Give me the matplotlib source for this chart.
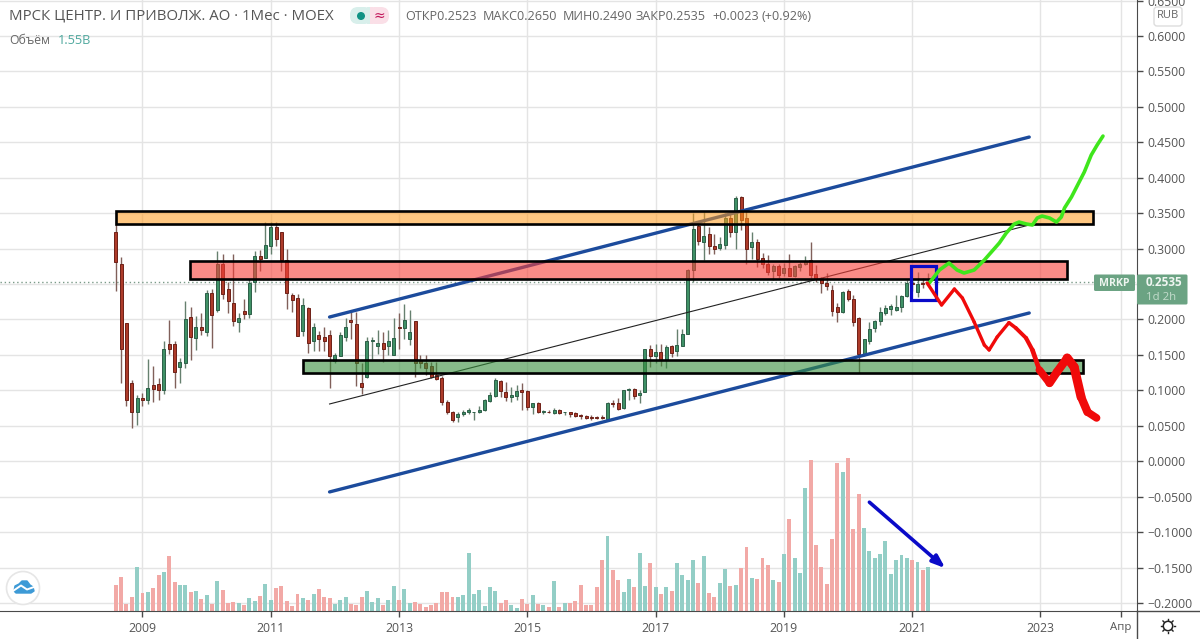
import matplotlib
matplotlib.use('Agg')
import matplotlib.pyplot as plt
from matplotlib.patches import Rectangle, FancyBboxPatch, Circle, Polygon

plt.rcParams['font.family'] = ['Open Sans', 'DejaVu Sans']

# monthly candles, first one is Aug 2008
first_month = -5  # months from Jan 2009
opens = [.323, .279, .195, .110, .069, .089, .086, .107, .109, .101, .166, .166, .133, .139, .204, .174, .189, .183, .237, .213,
         .279, .243, .223, .197, .212, .208, .253, .290, .287, .303, .330, .323, .284, .235, .230, .184, .216, .170, .178, .175,
         .178, .142, .149, .176, .199, .194, .110, .119, .170, .163, .167, .162, .150, .189, .188, .173, .198, .143, .138, .134,
         .121, .117, .083, .070, .062, .067, .069, .069, .069, .072, .085, .092, .113, .097, .090, .092, .100, .099, .077, .082,
         .070, .070, .068, .073, .069, .069, .068, .065, .064, .062, .062, .062, .060, .082, .082, .075, .100, .102, .093, .098,
         .158, .148, .154, .143, .163, .155, .163, .180, .270, .332, .310, .321, .304, .301, .305, .343, .324, .373, .343, .302,
         .310, .287, .279, .269, .276, .265, .273, .261, .274, .279, .284, .264, .258, .251, .242, .218, .211, .240, .229, .202,
         .150, .170, .188, .198, .209, .215, .213, .217, .233, .252, .239, .252, .2523]
highs = [.340, .288, .195, .114, .094, .096, .144, .134, .117, .170, .199, .170, .145, .226, .217, .205, .209, .241, .243, .296,
         .293, .253, .292, .209, .229, .257, .296, .298, .338, .337, .338, .323, .299, .238, .236, .230, .218, .195, .184, .190,
         .185, .153, .183, .202, .211, .211, .138, .175, .175, .185, .183, .185, .202, .209, .222, .213, .198, .150, .150, .140,
         .140, .120, .086, .071, .069, .072, .075, .070, .078, .088, .097, .117, .115, .112, .105, .108, .110, .100, .082, .084,
         .073, .072, .075, .074, .070, .069, .070, .067, .065, .065, .064, .065, .083, .087, .089, .101, .104, .103, .100, .159,
         .164, .166, .166, .164, .164, .186, .186, .271, .350, .339, .352, .330, .321, .317, .350, .350, .374, .374, .357, .324,
         .314, .294, .291, .279, .279, .280, .293, .277, .281, .289, .310, .277, .260, .266, .249, .223, .240, .243, .234, .204,
         .172, .197, .199, .218, .220, .222, .234, .234, .256, .258, .267, .258, .2650]
lows = [.240, .111, .078, .047, .051, .078, .081, .084, .086, .095, .151, .104, .111, .132, .143, .157, .178, .177, .160, .210,
        .229, .209, .191, .183, .201, .202, .239, .268, .287, .293, .304, .269, .215, .211, .177, .177, .153, .155, .155, .155,
        .104, .138, .149, .170, .173, .106, .095, .118, .144, .151, .140, .150, .150, .159, .173, .164, .119, .131, .122, .117,
        .115, .079, .067, .055, .056, .064, .066, .058, .068, .071, .084, .091, .091, .085, .084, .086, .072, .072, .066, .068,
        .067, .068, .067, .067, .065, .063, .062, .060, .060, .058, .059, .059, .060, .077, .072, .074, .086, .088, .082, .097,
        .133, .138, .135, .131, .147, .149, .163, .180, .253, .305, .284, .293, .292, .298, .299, .316, .299, .326, .279, .286,
        .274, .272, .263, .256, .258, .261, .261, .260, .269, .277, .259, .253, .238, .242, .205, .197, .209, .226, .191, .124,
        .148, .166, .183, .192, .207, .207, .212, .211, .232, .240, .232, .244, .2490]
closes = [.281, .159, .087, .070, .089, .086, .103, .102, .101, .159, .159, .126, .140, .200, .176, .189, .185, .237, .207, .278,
          .236, .226, .198, .202, .208, .252, .289, .285, .305, .330, .314, .284, .238, .228, .177, .220, .167, .189, .172, .170,
          .148, .150, .178, .189, .197, .138, .105, .169, .171, .167, .158, .169, .174, .188, .199, .182, .138, .139, .132, .119,
          .116, .083, .069, .058, .066, .069, .072, .070, .073, .087, .093, .115, .099, .091, .094, .099, .097, .077, .082, .069,
          .071, .069, .073, .068, .070, .067, .064, .064, .061, .061, .061, .061, .082, .081, .074, .101, .102, .092, .096, .158,
          .148, .154, .143, .161, .153, .164, .179, .270, .327, .311, .318, .303, .300, .306, .343, .324, .371, .340, .299, .309,
          .286, .279, .267, .275, .263, .272, .261, .275, .278, .283, .263, .257, .251, .247, .212, .210, .239, .229, .196, .152,
          .172, .186, .198, .210, .216, .219, .218, .233, .252, .250, .250, .250, .2535]
# volume, billions
volumes = [.91, 1.19, .24, .49, 1.54, .63, .66, .80, 1.26, 1.36, 1.92, 1.01, .91, .91, .66, .70, .42, .56, .24, 1.05,
           .73, .28, .31, .28, .21, .45, .35, .52, .94, .38, .80, .87, .35, .17, .59, .45, .38, .59, .77, .49,
           .45, .24, .38, .49, .24, .21, .49, .70, .31, .45, .21, .38, .87, .38, .77, .28, .31, .24, .14, .21,
           .28, .66, .66, .49, .49, .56, 2.03, .59, .73, .17, .84, .70, .28, .38, .21, .10, .42, .26, .57, .26,
           .22, .15, 1.06, .15, .29, .29, .36, .92, .22, .22, .85, 1.79, 2.63, 1.45, 1.10, .68, 1.13, .85, 2.04, .89,
           1.69, .85, .61, .85, .71, 1.69, 1.27, 1.10, 1.79, .99, 1.93, .64, .50, .99, 1.48, .89, .92, 1.52, 2.25, 1.17,
           1.13, 1.86, 1.62, 1.10, 1.03, 2.00, 3.23, 1.86, 1.34, 4.31, 5.29, 2.32, 1.55, .96, 2.53, 5.19, 4.87, 5.36, 2.88, 4.10,
           2.91, 2.11, 1.86, 2.00, 2.46, 1.31, 1.79, 1.97, 1.86, 1.79, 1.72, 1.45, 1.55]

year_labels = ['2009', '2011', '2013', '2015', '2017', '2019', '2021', '2023', 'Апр']
year_months = [0, 24, 48, 72, 96, 120, 144, 168, 183]
price_ticks = [.65, .6, .55, .5, .45, .4, .35, .3, .25, .2, .15, .1, .05, 0, -.05, -.1, -.15, -.2]
last_price = 0.2535

# hand drawn stuff (month, price)
orange_zone = [-5.0, 177.8, .3350, .3530]
pink_zone = [8.9, 172.9, .2565, .2825]
green_zone = [30.0, 175.9, .1249, .1429]
blue_box = [143.8, 148.5, .2275, .2755]
upper_line = [[35, 165.9], [.2035, .4574]]
lower_line = [[35, 165.9], [-.0433, .2092]]
thin_line = [[35, 165.9], [.0808, .3333]]
arrow_line = [[136, 150.2], [-.0578, -.1509]]
green_m = [147.2, 149.1, 150.9, 152.4, 153.7, 155.6, 157.5, 160.3, 161.6, 163.1, 164.0, 165.4, 166.5, 167.4, 168.3, 169.7, 171.0, 171.9, 172.5, 173.8, 176.2, 177.5, 178.6, 179.7]
green_p = [.2515, .2698, .2797, .2698, .2656, .2698, .2839, .3079, .3220, .3347, .3375, .3347, .3333, .3432, .3460, .3432, .3375, .3446, .3573, .3728, .4080, .4320, .4461, .4588]
red_m = [146.8, 149.5, 151.9, 153.4, 155.6, 157.5, 158.4, 159.9, 162.1, 163.4, 165.3, 166.5, 167.8, 169.7, 171.1, 173.0, 174.3, 175.6, 176.8, 178.5]
red_p = [.2515, .2205, .2430, .2303, .1965, .1640, .1570, .1753, .1955, .1880, .1739, .1570, .1288, .1104, .1260, .1457, .1330, .0907, .0695, .0611]
red_w = [2.4, 2.4, 2.4, 2.4, 2.4, 2.4, 2.4, 2.4, 2.6, 2.8, 3, 3.4, 5.5, 6, 6, 6.5, 6.5, 6, 5.5]

months = [first_month + i for i in range(len(opens))]
is_up = [c >= o for o, c in zip(opens, closes)]

fig = plt.figure(figsize=(12, 6.39), dpi=100)
ax = fig.add_axes([0, 28 / 639, 1136.5 / 1200, 611 / 639])
ax.set_xlim(-26.66, 185.97)
ax.set_ylim(-.2113, .6508)
ax.set_zorder(2)
ax.patch.set_visible(False)

# volume sits on its own scale under the candles, with the grid
vol = ax.twinx()
vol.set_ylim(-.2113, .6508)
vol.set_zorder(1)
vol.axis('off')
for m in year_months:
    vol.axvline(m, color='#e4e4e4', lw=1, zorder=0)
for p in price_ticks:
    vol.axhline(p, color='#e4e4e4', lw=1, zorder=0)

vol2 = vol.twinx()
vol2.set_ylim(0, 21.36)
vol2.axis('off')
vol2.bar(months, volumes, width=.74, color=['#93cec6' if u else '#f2a9a6' for u in is_up], zorder=2)

ax.set_xticks(year_months)
ax.set_xticklabels(year_labels)
ax.set_yticks(price_ticks)
# 0.2500 is hidden behind the price tag
ax.set_yticklabels(['' if p == .25 else f'{p:.4f}'.replace('-', '\u2212') for p in price_ticks])
ax.yaxis.tick_right()
ax.tick_params(axis='both', length=4, width=1, color='#4a4a4a', labelcolor='#555555', labelsize=8.8, pad=4)
ax.xaxis.get_ticklabels()[-1].set_fontsize(8.2)
for name in ['top', 'left']:
    ax.spines[name].set_visible(False)
ax.spines['right'].set_color('#4a4a4a')
ax.spines['bottom'].set_color('#4a4a4a')

ax.axhline(last_price, color='#7a9a88', lw=1, ls=(0, (1, 2)), zorder=1)

# candles
ax.vlines(months, lows, highs, color=['#66806f' if u else '#80605a' for u in is_up], lw=1, zorder=2)
ax.bar(months, [abs(c - o) for o, c in zip(opens, closes)], bottom=[min(o, c) for o, c in zip(opens, closes)],
       width=.56, color=['#3f9166' if u else '#ad3b2a' for u in is_up],
       edgecolor=['#2d5f48' if u else '#6e2017' for u in is_up], lw=.7, zorder=3)

# zones
for zone, col in [(orange_zone, (1, .6, .1, .55)), (pink_zone, (.97, .25, .22, .6)), (green_zone, (.22, .56, .24, .6))]:
    ax.add_patch(Rectangle((zone[0], zone[2]), zone[1] - zone[0], zone[3] - zone[2], facecolor=col, edgecolor='black', lw=1.9, zorder=4))

ax.plot(upper_line[0], upper_line[1], color='#1c4b9c', lw=2.4, zorder=3.5, solid_capstyle='round')
ax.plot(lower_line[0], lower_line[1], color='#1c4b9c', lw=2.4, zorder=3.5, solid_capstyle='round')
ax.plot(thin_line[0], thin_line[1], color='#222222', lw=.8, zorder=3.5)
ax.add_patch(Rectangle((blue_box[0], blue_box[2]), blue_box[1] - blue_box[0], blue_box[3] - blue_box[2], fill=False, edgecolor='#0a0ac8', lw=2.3, zorder=5))

ax.annotate('', xy=(arrow_line[0][1], arrow_line[1][1]), xytext=(arrow_line[0][0], arrow_line[1][0]),
            arrowprops=dict(arrowstyle='-|>,head_length=.75,head_width=.28', color='#0a0ac8', lw=2.6, shrinkA=0, shrinkB=0), zorder=6)

ax.plot(green_m, green_p, color='#3fe61c', lw=2.6, zorder=6, solid_capstyle='round', solid_joinstyle='round')
for i in range(len(red_m) - 1):
    ax.plot(red_m[i:i + 2], red_p[i:i + 2], color='#f00a0a', lw=red_w[i], zorder=6, solid_capstyle='round')

# chart chrome in pixel coordinates
ui = fig.add_axes([0, 0, 1, 1])
ui.set_xlim(0, 1200)
ui.set_ylim(639, 0)
ui.axis('off')
ui.set_zorder(5)
ui.patch.set_visible(False)

ui.plot([1136.5, 1200], [611, 611], color='#4a4a4a', lw=1)
ui.plot([1136.5, 1136.5], [611, 639], color='#4a4a4a', lw=1)

ui.text(9, 16, 'МРСК ЦЕНТР. И ПРИВОЛЖ. АО · 1Мес · MOEX', fontsize=10.8, color='#555555', va='center')
ui.text(9, 41, 'Объём', fontsize=8.8, color='#666666', va='center')
ui.text(58, 41, '1.55B', fontsize=9.2, color='#4fa89e', va='center')
for x, s in [(405, 'ОТКР0.2523'), (483, 'МАКС0.2650'), (563, 'МИН0.2490'), (636, 'ЗАКР0.2535'), (712, '+0.0023'), (762, '(+0.92%)')]:
    ui.text(x, 16, s, fontsize=9.1, color='#666666', va='center')

ui.add_patch(FancyBboxPatch((350, 7), 22, 17, boxstyle='round,pad=0,rounding_size=8', fc='#d8efeb', ec='none'))
ui.add_patch(FancyBboxPatch((367, 7), 22, 17, boxstyle='round,pad=0,rounding_size=8', fc='#fadfe7', ec='none'))
ui.add_patch(Rectangle((367, 7), 3, 17, fc='#d8efeb', ec='none'))
ui.add_patch(Rectangle((370, 7), 3, 17, fc='#fadfe7', ec='none'))
ui.add_patch(Circle((361, 16), 4, fc='#0e9384', ec='none'))
ui.text(379, 16, '≈', fontsize=10, color='#c2185b', va='center', ha='center', family=['DejaVu Sans'])

ui.add_patch(FancyBboxPatch((1154, 7), 28, 19, boxstyle='round,pad=0,rounding_size=3', fc='white', ec='#dddddd', lw=1))
ui.text(1168, 16, 'RUB', fontsize=8, color='#666666', va='center', ha='center')

# last price tags
tag = '#6ba383'
ui.add_patch(FancyBboxPatch((1094, 274.5), 41, 16.5, boxstyle='round,pad=0,rounding_size=1.5', fc=tag, ec='none'))
ui.add_patch(FancyBboxPatch((1137, 274.5), 50.5, 30, boxstyle='round,pad=0,rounding_size=1.5', fc=tag, ec='none'))
ui.text(1114.5, 283, 'MRKP', fontsize=7.6, fontweight='bold', color='#eef5f0', va='center', ha='center')
ui.text(1146, 283, '0.2535', fontsize=8.5, fontweight='bold', color='#f0f6f2', va='center')
ui.text(1146, 297, '1d 2h', fontsize=8.2, color='#c3dccc', va='center')

# settings icon
ui.add_patch(Circle((1168, 626), 4.7, fc='white', ec='#222222', lw=1.1))
for dx, dy in [(0, 1), (0, -1), (1, 0), (-1, 0), (.7, .7), (-.7, .7), (.7, -.7), (-.7, -.7)]:
    ui.plot([1168 + 5.6 * dx, 1168 + 7.2 * dx], [626 + 5.6 * dy, 626 + 7.2 * dy], color='#222222', lw=1)

# logo
ui.add_patch(Circle((23, 588), 16.5, fc='white', ec='#e6e6e6', lw=1.2))
ui.add_patch(Polygon([[14, 591], [15, 586], [19, 584], [22, 581], [27, 581], [30, 585], [33, 587], [34, 591], [31, 593], [16, 593]],
                     closed=True, fc='#3d9ad6', ec='#3d9ad6', lw=1, joinstyle='round'))
ui.plot([13, 21, 27, 34], [591, 585.5, 589.5, 587], color='white', lw=1.4)

fig.savefig('out.png', dpi=100)
